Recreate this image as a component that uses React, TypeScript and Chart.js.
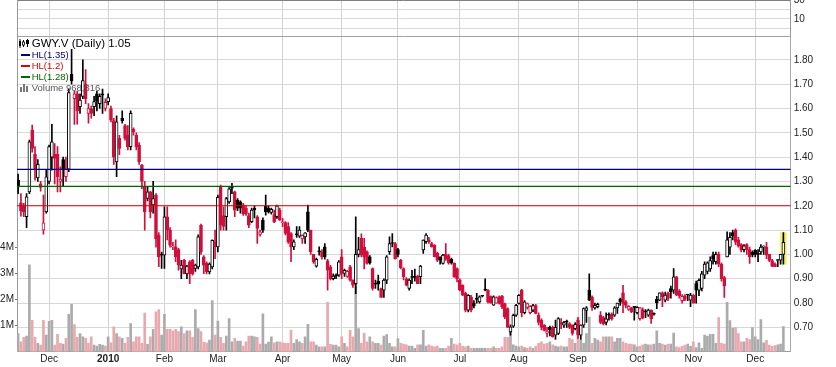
import React, { useEffect, useRef } from 'react';
import { Chart, registerables } from 'chart.js';

Chart.register(...registerables);

// ---- Daily OHLC for GWY.V, 16 Nov 2009 .. 15 Dec 2010 (one entry per trading day) ----
const openP = [
  1.305,1.212,1.198,1.155,1.257,1.511,1.412,1.315,1.29,1.10,
  1.175,1.30,1.40,1.412,1.412,1.30,1.39,1.32,1.35,1.74,
  1.64,1.66,1.607,1.65,1.70,1.58,1.60,1.607,1.66,1.62,
  1.66,1.60,1.628,1.60,1.55,1.38,1.477,1.56,1.53,1.49,
  1.443,1.515,1.49,1.45,1.367,1.28,1.23,1.257,1.203,1.244,
  1.079,1.0,0.997,1.155,1.10,1.031,1.031,1.02,0.94,0.976,
  0.92,0.97,0.976,0.942,0.949,1.12,0.99,0.963,0.928,0.949,
  1.052,1.031,1.28,1.16,1.155,1.216,1.275,1.257,1.223,1.216,
  1.203,1.19,1.16,1.135,1.19,1.155,1.082,1.141,1.198,1.19,
  1.173,1.164,1.155,1.182,1.13,1.131,1.114,1.086,1.031,1.08,
  1.075,1.064,1.072,1.175,1.10,1.0,0.952,1.011,1.011,1.031,
  0.974,0.949,0.90,0.911,0.915,0.99,0.922,0.91,0.949,0.894,
  0.88,1.0,1.066,1.03,1.011,0.99,0.942,0.878,0.89,0.86,
  0.853,0.894,1.011,1.045,1.045,1.02,0.976,0.942,0.90,0.86,
  0.905,0.91,0.91,0.908,1.018,1.052,1.06,1.045,1.038,1.004,
  0.99,0.963,1.0,0.995,0.98,0.963,0.942,0.894,0.874,0.84,
  0.771,0.826,0.80,0.815,0.805,0.828,0.853,0.853,0.828,0.791,
  0.80,0.826,0.828,0.798,0.777,0.681,0.705,0.75,0.798,0.853,
  0.76,0.782,0.76,0.771,0.79,0.75,0.73,0.709,0.675,0.70,
  0.70,0.668,0.675,0.72,0.709,0.725,0.716,0.709,0.695,0.73,
  0.668,0.709,0.77,0.853,0.825,0.78,0.785,0.75,0.74,0.72,
  0.75,0.754,0.75,0.78,0.815,0.842,0.805,0.774,0.78,0.782,
  0.76,0.736,0.773,0.764,0.75,0.771,0.754,0.815,0.812,0.842,
  0.812,0.84,0.86,0.853,0.908,0.85,0.81,0.83,0.833,0.812,
  0.833,0.88,0.853,0.86,0.915,0.93,0.94,0.995,0.97,1.0,
  0.96,0.905,0.99,1.03,1.09,1.10,1.06,1.04,1.02,1.04,
  1.02,1.01,1.018,1.0,1.01,1.03,1.03,1.0,0.975,0.96,
  0.975,0.976,1.0,
];
const highP = [
  1.33,1.25,1.21,1.25,1.47,1.532,1.443,1.39,1.30,1.244,
  1.346,1.45,1.535,1.456,1.443,1.36,1.40,1.40,1.68,1.843,
  1.672,1.67,1.66,1.80,1.76,1.62,1.61,1.65,1.67,1.66,
  1.68,1.64,1.66,1.61,1.56,1.57,1.49,1.59,1.535,1.53,
  1.59,1.52,1.50,1.46,1.37,1.30,1.28,1.26,1.30,1.25,
  1.09,1.01,1.196,1.196,1.11,1.05,1.06,1.025,0.976,0.98,
  0.955,0.975,0.98,0.96,1.08,1.125,0.995,0.97,0.965,1.06,
  1.10,1.244,1.285,1.196,1.235,1.275,1.292,1.26,1.23,1.22,
  1.21,1.20,1.17,1.19,1.20,1.16,1.10,1.15,1.244,1.20,
  1.19,1.182,1.203,1.19,1.148,1.135,1.131,1.09,1.06,1.114,
  1.114,1.08,1.09,1.203,1.10,1.0,0.985,1.031,1.02,1.045,
  0.98,0.955,0.92,0.92,0.975,1.02,0.94,0.935,0.955,0.895,
  1.155,1.07,1.085,1.066,1.015,0.995,0.945,0.894,0.915,0.862,
  0.90,0.995,1.072,1.086,1.05,1.025,0.98,0.945,0.905,0.90,
  0.935,0.94,0.915,0.955,1.06,1.086,1.07,1.05,1.04,1.01,
  0.99,1.0,1.045,1.0,0.985,0.965,0.945,0.90,0.875,0.845,
  0.835,0.832,0.81,0.84,0.83,0.83,0.90,0.855,0.83,0.83,
  0.826,0.83,0.832,0.80,0.78,0.71,0.755,0.795,0.835,0.856,
  0.81,0.80,0.79,0.795,0.795,0.76,0.735,0.712,0.70,0.705,
  0.705,0.73,0.74,0.736,0.725,0.73,0.72,0.71,0.72,0.74,
  0.71,0.78,0.785,0.92,0.83,0.80,0.80,0.765,0.745,0.76,
  0.76,0.76,0.785,0.80,0.82,0.873,0.81,0.79,0.782,0.782,
  0.785,0.782,0.78,0.773,0.775,0.772,0.76,0.828,0.842,0.846,
  0.845,0.845,0.87,0.942,0.91,0.855,0.835,0.835,0.835,0.84,
  0.835,0.89,0.90,0.93,0.97,0.97,0.99,1.01,1.01,1.01,
  0.965,0.91,1.093,1.09,1.10,1.105,1.07,1.045,1.04,1.045,
  1.03,1.015,1.02,1.02,1.04,1.035,1.05,1.0,0.98,0.965,
  0.98,1.0,1.09,
];
const lowP = [
  1.25,1.157,1.155,1.11,1.25,1.42,1.305,1.30,1.26,1.083,
  1.17,1.29,1.346,1.29,1.257,1.257,1.28,1.30,1.34,1.70,
  1.534,1.535,1.58,1.64,1.62,1.54,1.56,1.57,1.59,1.60,
  1.58,1.59,1.615,1.545,1.37,1.32,1.41,1.54,1.47,1.43,
  1.43,1.49,1.43,1.37,1.27,1.10,1.22,1.15,1.17,1.03,
  0.95,0.942,0.942,1.06,1.03,1.02,0.97,0.935,0.90,0.92,
  0.90,0.88,0.915,0.93,0.94,1.0,0.921,0.92,0.92,0.94,
  0.983,1.01,1.10,1.10,1.10,1.21,1.25,1.155,1.18,1.17,
  1.16,1.16,1.11,1.13,1.15,1.045,1.075,1.09,1.161,1.17,
  1.165,1.13,1.148,1.14,1.114,1.08,1.045,0.97,1.02,1.07,
  1.07,1.045,1.045,1.093,1.0,0.963,0.948,0.997,0.98,0.98,
  0.853,0.895,0.895,0.90,0.91,0.90,0.91,0.905,0.89,0.864,
  0.839,0.99,0.99,0.94,0.96,0.96,0.853,0.86,0.853,0.823,
  0.823,0.88,1.0,1.031,0.98,0.99,0.94,0.895,0.87,0.853,
  0.88,0.89,0.88,0.88,1.004,1.045,1.045,1.03,0.99,0.97,
  0.96,0.96,0.975,0.96,0.96,0.905,0.887,0.85,0.83,0.764,
  0.764,0.764,0.78,0.80,0.80,0.825,0.85,0.80,0.80,0.79,
  0.80,0.795,0.777,0.736,0.70,0.668,0.70,0.745,0.795,0.743,
  0.755,0.775,0.755,0.765,0.755,0.71,0.69,0.685,0.661,0.665,
  0.66,0.65,0.67,0.695,0.70,0.70,0.695,0.668,0.69,0.655,
  0.65,0.70,0.72,0.81,0.77,0.775,0.78,0.715,0.71,0.71,
  0.73,0.73,0.745,0.757,0.79,0.76,0.78,0.77,0.76,0.73,
  0.755,0.73,0.735,0.74,0.745,0.716,0.75,0.777,0.81,0.785,
  0.805,0.81,0.82,0.84,0.83,0.82,0.80,0.81,0.81,0.785,
  0.80,0.80,0.83,0.85,0.90,0.92,0.93,0.96,0.96,0.95,
  0.89,0.823,0.99,1.0,1.06,1.04,1.03,1.01,1.01,1.0,
  0.963,0.99,0.99,0.97,1.0,1.0,0.983,0.97,0.95,0.95,
  0.95,0.96,0.96,
];
const closeP = [
  1.278,1.179,1.175,1.237,1.463,1.436,1.353,1.37,1.275,1.13,
  1.319,1.443,1.463,1.395,1.32,1.31,1.353,1.35,1.665,1.713,
  1.66,1.59,1.635,1.715,1.64,1.60,1.58,1.628,1.63,1.65,
  1.655,1.625,1.645,1.552,1.40,1.545,1.436,1.55,1.477,1.443,
  1.58,1.505,1.443,1.381,1.30,1.175,1.257,1.175,1.23,1.065,
  0.99,0.997,1.155,1.10,1.038,1.035,0.99,0.956,0.956,0.921,
  0.952,0.921,0.92,0.956,1.072,1.01,0.956,0.928,0.96,1.058,
  1.031,1.235,1.12,1.115,1.23,1.27,1.272,1.182,1.19,1.19,
  1.168,1.165,1.12,1.182,1.183,1.107,1.093,1.10,1.175,1.175,
  1.185,1.134,1.20,1.141,1.131,1.086,1.052,1.031,1.052,1.08,
  1.10,1.078,1.089,1.10,1.011,0.97,0.98,1.011,0.99,0.99,
  0.935,0.90,0.911,0.911,0.97,0.922,0.935,0.93,0.894,0.874,
  1.0,1.02,0.997,0.99,0.963,0.965,0.86,0.878,0.878,0.823,
  0.894,0.99,1.045,1.045,0.983,1.0,0.945,0.908,0.874,0.894,
  0.905,0.905,0.88,0.952,1.059,1.079,1.052,1.031,0.99,0.976,
  0.976,0.997,0.98,0.965,0.965,0.908,0.90,0.853,0.832,0.771,
  0.832,0.771,0.787,0.815,0.826,0.828,0.853,0.805,0.80,0.826,
  0.823,0.798,0.784,0.743,0.70,0.702,0.75,0.791,0.832,0.76,
  0.805,0.798,0.787,0.79,0.757,0.72,0.70,0.688,0.685,0.69,
  0.661,0.70,0.736,0.713,0.72,0.722,0.70,0.675,0.713,0.67,
  0.709,0.777,0.78,0.812,0.782,0.791,0.795,0.72,0.715,0.735,
  0.75,0.735,0.78,0.80,0.805,0.798,0.79,0.787,0.764,0.782,
  0.782,0.78,0.74,0.764,0.771,0.736,0.754,0.801,0.842,0.826,
  0.833,0.819,0.846,0.908,0.833,0.83,0.828,0.815,0.833,0.833,
  0.80,0.853,0.893,0.92,0.96,0.965,0.975,0.98,1.0,0.96,
  0.90,0.87,1.06,1.07,1.075,1.05,1.035,1.02,1.035,1.02,
  0.99,0.998,1.0,1.0,1.03,1.031,0.997,0.975,0.952,0.95,
  0.976,1.0,1.05,
];
// daily volume in millions of shares
const volumeM = [
  0.70,0.38,0.55,0.60,3.34,1.21,0.55,0.32,0.25,1.21,
  0.64,1.17,1.21,0.25,0.67,0.32,0.29,0.51,1.44,1.82,
  1.04,0.55,0.70,0.57,0.51,0.32,0.57,0.25,0.22,0.28,
  0.25,0.22,0.57,0.34,0.96,0.70,0.57,0.51,0.32,0.55,
  1.08,0.38,0.57,0.57,0.32,1.49,0.28,0.57,0.86,1.53,
  1.62,0.64,1.44,0.86,0.86,0.80,0.86,0.77,0.96,0.70,
  0.80,0.80,0.55,1.62,0.89,0.77,0.36,0.34,0.45,1.97,
  0.64,1.18,0.55,0.32,0.60,1.27,0.38,0.51,0.41,0.41,
  0.22,0.38,0.60,0.60,0.57,0.55,0.29,1.46,0.29,0.37,
  0.57,0.34,0.38,0.38,0.34,0.32,0.32,0.83,0.32,0.47,
  0.38,0.32,0.57,1.05,0.38,0.38,0.25,0.19,0.19,0.19,
  1.90,0.28,0.25,0.25,0.19,0.57,0.32,0.19,0.82,0.57,
  3.40,0.89,0.32,0.72,0.38,0.57,0.38,0.32,0.32,0.25,
  0.60,0.66,0.32,0.19,0.19,0.50,0.32,0.29,0.26,0.22,
  0.22,0.13,0.26,0.26,0.82,0.22,0.26,0.22,0.19,0.22,
  0.13,0.13,0.13,0.22,0.51,0.29,0.26,0.32,0.22,0.19,
  0.22,0.13,0.13,0.13,0.13,0.13,0.13,0.13,0.13,0.19,
  0.13,0.13,0.19,0.55,0.55,0.89,0.26,0.22,0.19,0.22,
  0.16,0.13,0.19,0.13,0.22,0.32,0.38,0.29,0.32,0.38,
  0.26,0.22,0.19,0.22,0.19,0.19,0.51,0.47,0.32,1.33,
  0.45,0.32,0.70,1.33,0.32,0.51,0.45,0.38,0.57,0.57,
  0.57,0.57,0.38,0.51,0.51,0.38,0.32,0.29,0.29,0.26,
  0.19,0.22,0.26,0.29,0.26,0.26,0.29,0.80,0.32,0.29,
  0.25,0.29,0.29,0.72,0.19,0.16,0.21,0.25,0.29,0.21,
  0.38,0.16,0.34,0.13,0.64,0.60,0.67,0.67,0.32,1.31,
  0.32,0.29,1.90,1.20,0.90,0.93,0.70,0.38,0.38,0.51,
  0.47,0.93,0.57,0.47,1.24,0.34,0.44,0.25,0.21,0.24,
  0.26,0.29,0.968316,
];

// first trading day of each month (index into the arrays) and its label
const monthTickIdx = [11, 32, 52, 71, 94, 115, 135, 157, 178, 199, 220, 240, 262];
const monthTickLabels = ['Dec', '2010', 'Feb', 'Mar', 'Apr', 'May', 'Jun', 'Jul', 'Aug', 'Sep', 'Oct', 'Nov', 'Dec'];
const priceTicks = [0.7, 0.8, 0.9, 1.0, 1.1, 1.2, 1.3, 1.4, 1.5, 1.6, 1.7, 1.8];
const volumeTicksM = [1, 2, 3, 4];
const indicatorTicks = [30, 20, 10, 0];
const indicatorLabels = ['30', '10'];
const hlLevels = [1.35, 1.2, 1.28];
const hlColors = ['#00007F', '#E00000', '#006400'];
const symbol = 'GWY.V';

const FONT = '"Liberation Sans", Arial, sans-serif';
const RED = '#D20F3C';
const BLACK = '#000000';

const X_MIN = -0.4;
const X_MAX = 274.6;
const PRICE_MIN = 0.6;
const PRICE_MAX = 1.898;
const VOL_MAX_M = 13.53;
const IND_MIN = -7.9;
const IND_MAX = 30;

export default function App() {
  const ref = useRef<HTMLCanvasElement>(null);
  const last = closeP.length - 1;

  useEffect(() => {
    const canvas = ref.current;
    if (!canvas) return;
    const idx = closeP.map((_, i) => i);
    const down = idx.map((i) => i > 0 && closeP[i] < closeP[i - 1]);
    const candleColor = down.map((d) => (d ? RED : BLACK));
    const bodyFill = idx.map((i) => (closeP[i] > openP[i] ? '#FFFFFF' : candleColor[i]));
    const volFill = down.map((d) => (d ? '#E8A8AF' : '#ABABAB'));

    const fitRight = (s: any) => {
      s.width = 45.3;
      s.paddingTop = 0;
      s.paddingBottom = 0;
    };

    const chart = new Chart(canvas, {
      type: 'bar',
      data: {
        datasets: [
          ...hlLevels.map((lvl, k) => ({
            type: 'line' as const,
            label: `HL(${lvl})`,
            yAxisID: 'y',
            data: [{ x: X_MIN, y: lvl }, { x: X_MAX, y: lvl }],
            borderColor: hlColors[k],
            borderWidth: 1.2,
            pointRadius: 0,
            order: 0,
          })),
          {
            type: 'bar' as const,
            label: 'body',
            yAxisID: 'y',
            data: idx.map((i) => ({ x: i, y: [openP[i], closeP[i]] })),
            backgroundColor: bodyFill,
            borderColor: candleColor,
            borderWidth: 1,
            borderSkipped: false,
            barThickness: 3,
            minBarLength: 1,
            grouped: false,
            order: 1,
          },
          {
            type: 'bar' as const,
            label: 'wick',
            yAxisID: 'y',
            data: idx.map((i) => ({ x: i, y: [lowP[i], highP[i]] })),
            backgroundColor: candleColor,
            barThickness: 1,
            grouped: false,
            order: 2,
          },
          {
            type: 'bar' as const,
            label: 'last',
            yAxisID: 'y',
            data: [{ x: last, y: [lowP[last], highP[last]] }],
            backgroundColor: '#F4F46A',
            barThickness: 6,
            grouped: false,
            order: 3,
          },
          {
            type: 'bar' as const,
            label: 'Volume',
            yAxisID: 'yv',
            data: idx.map((i) => ({ x: i, y: volumeM[i] })),
            backgroundColor: volFill,
            barThickness: 2,
            grouped: false,
            order: 4,
          },
        ],
      } as any,
      options: {
        responsive: false,
        animation: false,
        devicePixelRatio: 1,
        events: [],
        layout: { padding: 0 },
        plugins: { legend: { display: false }, tooltip: { enabled: false }, title: { display: false } },
        scales: {
          x: {
            type: 'linear',
            min: X_MIN,
            max: X_MAX,
            offset: false,
            afterBuildTicks: (s: any) => {
              s.ticks = monthTickIdx.map((v) => ({ value: v }));
            },
            afterFit: (s: any) => {
              s.height = 15.3;
              s.paddingLeft = 0;
              s.paddingRight = 0;
            },
            grid: { offset: false, color: '#D2D2D2', drawTicks: false },
            border: { color: '#999999' },
            ticks: {
              autoSkip: false,
              maxRotation: 0,
              minRotation: 0,
              padding: 2,
              color: '#222222',
              font: (ctx: any) => ({
                family: FONT,
                size: 10,
                weight: monthTickLabels[ctx.index] === '2010' ? 'bold' : 'normal',
              }),
              callback: (_v: any, i: number) => monthTickLabels[i],
            },
          },
          yTop: {
            type: 'linear',
            position: 'right',
            stack: 'right',
            stackWeight: 36,
            min: IND_MIN,
            max: IND_MAX,
            afterBuildTicks: (s: any) => {
              s.ticks = [IND_MIN, ...indicatorTicks].map((v) => ({ value: v }));
            },
            afterFit: fitRight,
            grid: {
              drawTicks: false,
              color: (ctx: any) =>
                ctx.tick && ctx.tick.value === IND_MAX
                  ? '#808080'
                  : ctx.tick && ctx.tick.value === IND_MIN
                  ? '#A0A0A0'
                  : '#D8D8D8',
            },
            border: { color: '#999999' },
            ticks: {
              autoSkip: false,
              padding: 3,
              color: '#222222',
              font: { family: FONT, size: 10 },
              callback: (v: any) => (indicatorLabels.includes(String(v)) ? String(v) : ''),
            },
          },
          y: {
            type: 'linear',
            position: 'right',
            stack: 'right',
            stackWeight: 315.7,
            min: PRICE_MIN,
            max: PRICE_MAX,
            afterBuildTicks: (s: any) => {
              s.ticks = priceTicks.map((v) => ({ value: v }));
            },
            afterFit: fitRight,
            grid: { drawTicks: false, color: '#D8D8D8' },
            border: { color: '#A8A8A8' },
            ticks: {
              autoSkip: false,
              padding: 3,
              color: '#222222',
              font: { family: FONT, size: 10 },
              callback: (v: any) => Number(v).toFixed(2),
            },
          },
          yv: {
            type: 'linear',
            position: 'left',
            min: 0,
            max: VOL_MAX_M,
            afterBuildTicks: (s: any) => {
              s.ticks = volumeTicksM.map((v) => ({ value: v }));
            },
            afterFit: (s: any) => {
              s.width = 17;
              s.paddingTop = 0;
              s.paddingBottom = 0;
            },
            grid: { drawOnChartArea: false, drawTicks: true, tickLength: 2, color: '#777777' },
            border: { color: '#999999' },
            ticks: {
              autoSkip: false,
              padding: 1,
              color: '#222222',
              font: { family: FONT, size: 10 },
              callback: (v: any) => `${v}M`,
            },
          },
        },
      } as any,
    });
    return () => chart.destroy();
  }, []);

  const volText = Math.round(volumeM[last] * 1e6).toLocaleString('en-US');

  return (
    <div style={{ position: 'fixed', left: 0, top: 0, width: 836, height: 367, background: '#FFFFFF' }}>
      <canvas ref={ref} width={836} height={367} style={{ display: 'block', width: 836, height: 367 }} />
      <div style={{ position: 'absolute', left: 19, top: 37, pointerEvents: 'none', whiteSpace: 'nowrap' }}>
        <div style={{ display: 'flex', alignItems: 'center', height: 12, font: `11.5px ${FONT}`, color: '#000' }}>
          <svg width="11" height="9" style={{ marginRight: 1.7 }}>
            <rect x="0.5" y="0" width="1" height="9" fill="#000" />
            <rect x="0" y="2" width="2" height="5" fill="#000" />
            <rect x="4" y="1" width="1" height="7" fill="#000" />
            <rect x="3.5" y="3" width="2" height="3" fill="#fff" stroke="#000" strokeWidth="0.8" />
            <rect x="8" y="0" width="1" height="8" fill="#000" />
            <rect x="7" y="1" width="3" height="4" fill="#000" />
          </svg>
          <span>{`${symbol} (Daily) ${closeP[last].toFixed(2)}`}</span>
        </div>
        {hlLevels.map((lvl, k) => (
          <div
            key={k}
            style={{ display: 'flex', alignItems: 'center', height: 11, font: `9.5px ${FONT}`, color: hlColors[k] }}
          >
            <span style={{ display: 'inline-block', width: 9, height: 2, background: hlColors[k], marginLeft: 2, marginRight: 1.7 }} />
            <span>{`HL(${lvl})`}</span>
          </div>
        ))}
        <div style={{ display: 'flex', alignItems: 'center', height: 11, font: `9.5px ${FONT}`, color: '#555' }}>
          <svg width="11" height="8" style={{ marginRight: 1.7 }}>
            <rect x="1" y="3" width="2" height="5" fill="#777" />
            <rect x="4" y="0" width="2" height="8" fill="#777" />
            <rect x="7" y="2" width="2" height="6" fill="#777" />
          </svg>
          <span>{`Volume ${volText}`}</span>
        </div>
      </div>
    </div>
  );
}
